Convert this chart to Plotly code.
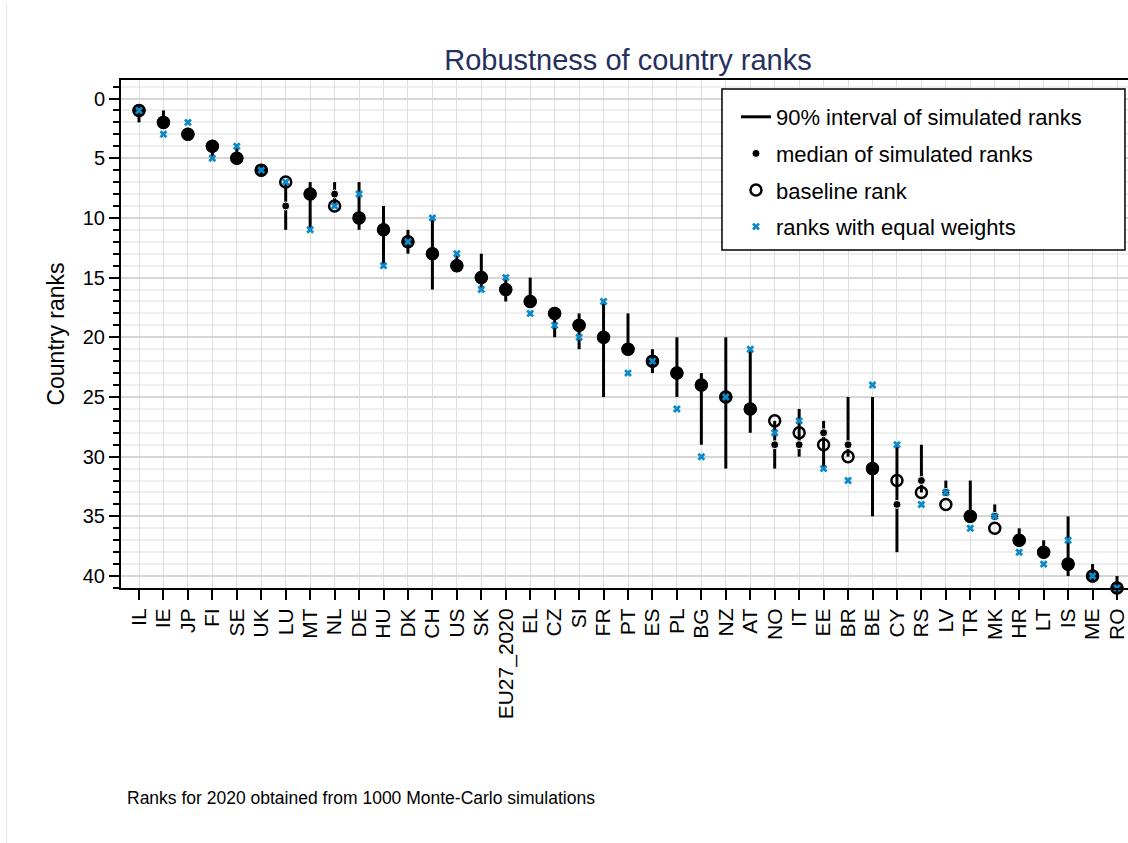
import plotly.graph_objects as go

countries = ["IL", "IE", "JP", "FI", "SE", "UK", "LU", "MT", "NL", "DE", "HU", "DK", "CH", "US",
             "SK", "EU27_2020", "EL", "CZ", "SI", "FR", "PT", "ES", "PL", "BG", "NZ", "AT", "NO",
             "IT", "EE", "BR", "BE", "CY", "RS", "LV", "TR", "MK", "HR", "LT", "IS", "ME", "RO"]
interval_low = [1, 1, 3, 4, 4, 6, 7, 7, 7, 7, 9, 11, 10, 13, 13, 15, 15, 18, 18, 17, 18, 21, 20, 23,
                20, 21, 27, 26, 27, 25, 25, 29, 29, 32, 32, 34, 36, 37, 35, 39, 40]
interval_high = [2, 2, 3, 5, 5, 6, 11, 11, 9, 11, 14, 13, 16, 14, 16, 17, 17, 20, 21, 25, 21, 23, 25,
                 29, 31, 28, 31, 30, 31, 30, 35, 38, 33, 33, 35, 35, 37, 38, 40, 40, 41]
median_rank = [1, 2, 3, 4, 5, 6, 9, 8, 8, 10, 11, 12, 13, 14, 15, 16, 17, 18, 19, 20, 21, 22, 23, 24,
               25, 26, 29, 29, 28, 29, 31, 34, 32, 33, 35, 35, 37, 38, 39, 40, 41]
baseline_rank = [1, 2, 3, 4, 5, 6, 7, 8, 9, 10, 11, 12, 13, 14, 15, 16, 17, 18, 19, 20, 21, 22, 23, 24,
                 25, 26, 27, 28, 29, 30, 31, 32, 33, 34, 35, 36, 37, 38, 39, 40, 41]
equal_weight_rank = [1, 3, 2, 5, 4, 6, 7, 11, 9, 8, 14, 12, 10, 13, 16, 15, 18, 19, 20, 17, 23, 22, 26,
                     30, 25, 21, 28, 27, 31, 32, 24, 29, 34, 33, 36, 35, 38, 39, 37, 40, 41]

FONT = "Arial, Liberation Sans, sans-serif"
BLUE = "#0a8bc8"

# interval segments
seg_x, seg_y = [], []
for c, lo, hi in zip(countries, interval_low, interval_high):
    seg_x += [c, c, None]
    seg_y += [lo, hi, None]

same_x = [c for c, m, b in zip(countries, median_rank, baseline_rank) if m == b]
same_y = [b for m, b in zip(median_rank, baseline_rank) if m == b]

fig = go.Figure()
fig.add_trace(go.Scatter(x=seg_x, y=seg_y, mode="lines", line=dict(color="black", width=3),
                         name="90% interval of simulated ranks", legendgroup="a", legendrank=1,
                         cliponaxis=False))
fig.add_trace(go.Scatter(x=countries, y=median_rank, mode="markers",
                         marker=dict(symbol="circle", size=8, color="black",
                                     line=dict(color="white", width=1)),
                         name="median of simulated ranks", legendgroup="b", legendrank=2,
                         cliponaxis=False))
fig.add_trace(go.Scatter(x=countries, y=baseline_rank, mode="markers",
                         marker=dict(symbol="circle-open", size=11, color="black",
                                     line=dict(color="black", width=2.5)),
                         name="baseline rank", legendgroup="c", legendrank=3,
                         cliponaxis=False))
fig.add_trace(go.Scatter(x=same_x, y=same_y, mode="markers",
                         marker=dict(symbol="circle", size=13, color="black",
                                     line=dict(width=0)),
                         showlegend=False, hoverinfo="skip", cliponaxis=False))
fig.add_trace(go.Scatter(x=countries, y=equal_weight_rank, mode="markers",
                         marker=dict(symbol="x", size=7, color=BLUE, line=dict(width=0)),
                         name="ranks with equal weights", legendgroup="d", legendrank=4,
                         cliponaxis=False))

fig.update_layout(
    width=1128, height=843,
    paper_bgcolor="white", plot_bgcolor="white",
    margin=dict(l=121, r=0, t=80, b=255),
    font=dict(family=FONT, size=20, color="black"),
    title=dict(text="Robustness of country ranks", x=0.5567, xanchor="center", y=0.929, yanchor="middle",
               font=dict(family=FONT, size=29, color="#25305e")),
    showlegend=True,
    legend=dict(x=0.6107, xanchor="left", y=0.9685, yanchor="top",
                borderwidth=0, bgcolor="rgba(0,0,0,0)",
                font=dict(family=FONT, size=22, color="black"),
                traceorder="grouped", tracegroupgap=5, itemwidth=30),
    annotations=[dict(text="Ranks for 2020 obtained from 1000 Monte-Carlo simulations",
                      xref="paper", yref="paper", x=0.004, y=-0.413, xanchor="left", yanchor="middle",
                      showarrow=False, font=dict(family=FONT, size=17.5, color="black"))],
    shapes=[
        dict(type="line", xref="paper", yref="paper", x0=-0.1136, x1=-0.1136, y0=-0.999, y1=1.15,
             line=dict(color="#e8e8e8", width=1)),
        dict(type="rect", xref="paper", yref="paper", x0=0.5968, x1=0.997, y0=0.6654, y1=0.9823,
             fillcolor="white", line=dict(color="black", width=1.5), layer="above"),
    ],
)

fig.update_xaxes(type="category", categoryorder="array", categoryarray=countries,
                 tickmode="linear", tick0=0, dtick=1,
                 range=[-0.736, 40.45], showgrid=True, gridcolor="#dedede", gridwidth=1,
                 showline=True, linecolor="black", linewidth=2, mirror=True,
                 ticks="outside", ticklen=10, tickwidth=2, tickcolor="black",
                 tickangle=-90, tickfont=dict(family=FONT, size=21, color="black"), zeroline=False)
fig.update_yaxes(range=[41, -1.55], tickmode="linear", tick0=0, dtick=5,
                 showgrid=True, gridcolor="#d6d6d6", gridwidth=1.5,
                 showline=True, linecolor="black", linewidth=2,
                 ticks="outside", ticklen=10, tickwidth=2, tickcolor="black",
                 tickfont=dict(family=FONT, size=20, color="black"), zeroline=False,
                 title=dict(text="Country ranks", font=dict(family=FONT, size=23, color="black"), standoff=12),
                 minor=dict(dtick=1, tick0=0, showgrid=True, gridcolor="#eeeeee", gridwidth=2,
                            ticks="outside", ticklen=6, tickwidth=2, tickcolor="black"))

fig.write_html("out.html", config={"displayModeBar": False},
               post_script="document.body.style.margin='0';")
